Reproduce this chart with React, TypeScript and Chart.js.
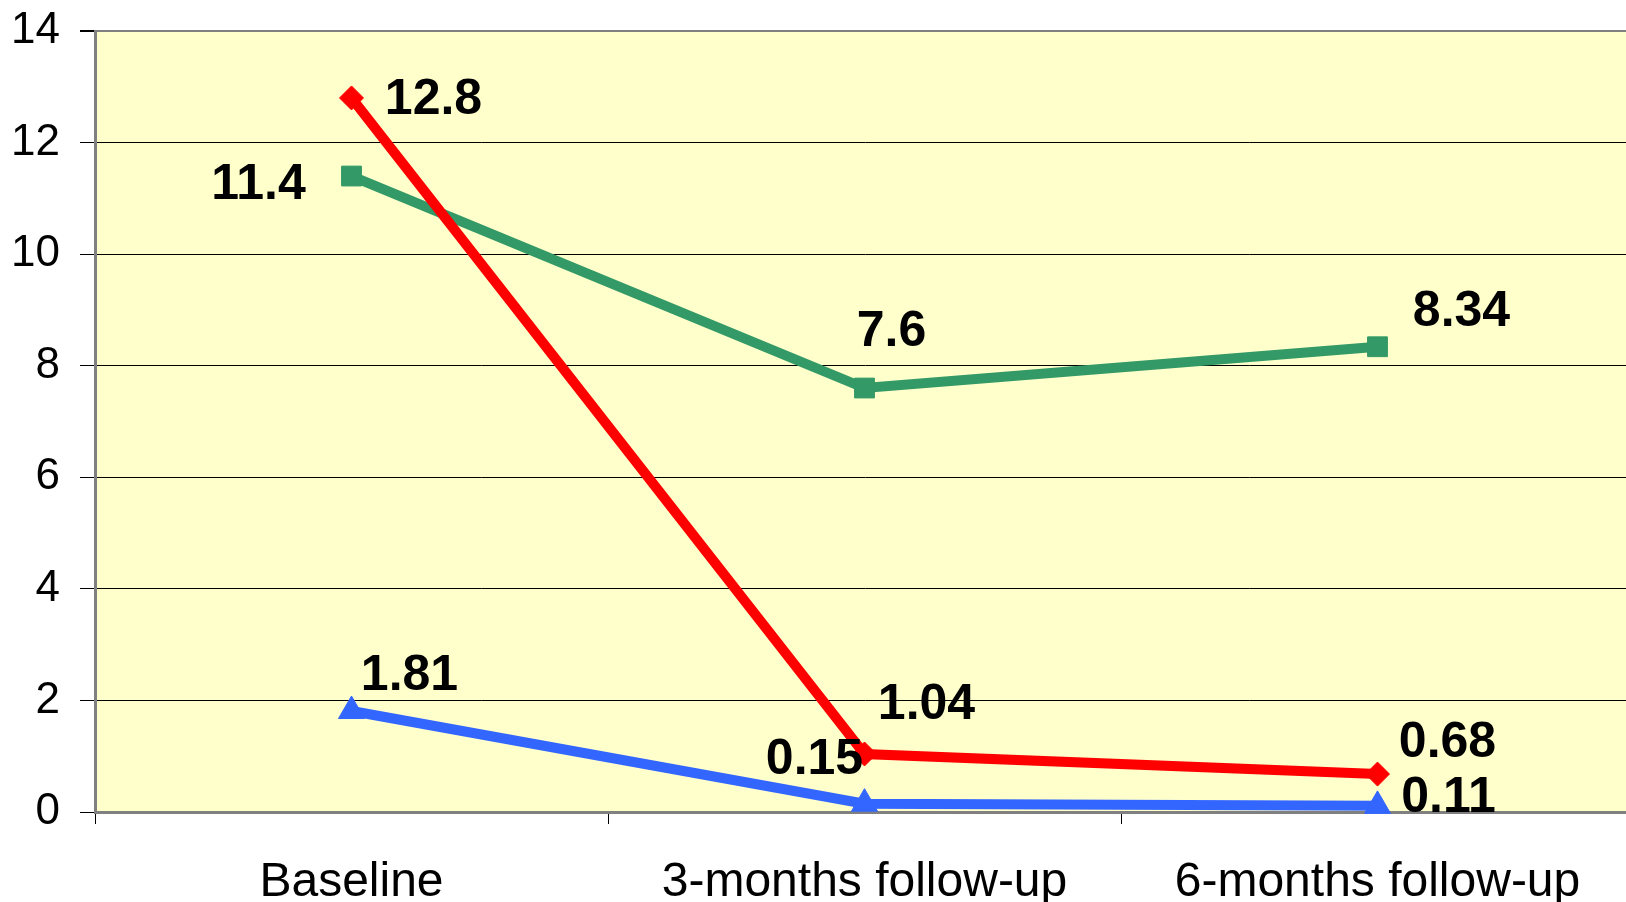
import React, { useEffect, useRef } from "react";
import { Chart, registerables } from "chart.js";

Chart.register(...registerables);

const categories = ["Baseline", "3-months follow-up", "6-months follow-up"];
const redValues = [12.8, 1.04, 0.68];
const greenValues = [11.4, 7.6, 8.34];
const blueValues = [1.81, 0.15, 0.11];
const redLabels = ["12.8", "1.04", "0.68"];
const greenLabels = ["11.4", "7.6", "8.34"];
const blueLabels = ["1.81", "0.15", "0.11"];

// label offsets (pixels from point to label centre)
const redOffsets = [[82, -2], [62, -53], [70, -35]];
const greenOffsets = [[-93, 5], [27, -60], [84, -39]];
const blueOffsets = [[58, -39], [-50, -48], [71, -12]];

const W = 1650;
const H = 902;

export default function App() {
  const ref = useRef<HTMLCanvasElement | null>(null);

  useEffect(() => {
    const canvas = ref.current;
    if (!canvas) return;

    const bgPlugin = {
      id: "plotBg",
      beforeDraw(chart: any) {
        const { ctx, chartArea } = chart;
        ctx.save();
        ctx.fillStyle = "#FFFFCC";
        ctx.fillRect(chartArea.left, chartArea.top, chartArea.right - chartArea.left, chartArea.bottom - chartArea.top);
        ctx.restore();
      },
    };

    const labelPlugin = {
      id: "valueLabels",
      afterDatasetsDraw(chart: any) {
        const ctx = chart.ctx;
        ctx.save();
        ctx.font = "bold 50px 'Liberation Sans', Arial, sans-serif";
        ctx.fillStyle = "#000";
        ctx.textAlign = "center";
        ctx.textBaseline = "alphabetic";
        chart.data.datasets.forEach((ds: any, di: number) => {
          const meta = chart.getDatasetMeta(di);
          meta.data.forEach((pt: any, i: number) => {
            const [dx, dy] = ds.labelOffsets[i];
            ctx.fillText(ds.valueLabels[i], pt.x + dx, pt.y + dy + 18);
          });
        });
        ctx.restore();
      },
    };

    const chart = new Chart(canvas, {
      type: "line",
      data: {
        labels: categories,
        datasets: [
          {
            data: redValues,
            borderColor: "#FF0000",
            backgroundColor: "#FF0000",
            borderWidth: 10,
            pointStyle: "rectRot",
            pointRadius: 12,
            pointBorderWidth: 1,
            pointBorderColor: "#FF0000",
            pointBackgroundColor: "#FF0000",
            tension: 0,
            clip: false,
            valueLabels: redLabels,
            labelOffsets: redOffsets,
          } as any,
          {
            data: greenValues,
            borderColor: "#339966",
            backgroundColor: "#339966",
            borderWidth: 10,
            pointStyle: "rect",
            pointRadius: 14,
            pointBorderWidth: 1,
            pointBorderColor: "#339966",
            pointBackgroundColor: "#339966",
            tension: 0,
            clip: false,
            valueLabels: greenLabels,
            labelOffsets: greenOffsets,
          } as any,
          {
            data: blueValues,
            borderColor: "#3366FF",
            backgroundColor: "#3366FF",
            borderWidth: 10,
            pointStyle: "triangle",
            pointRadius: 15,
            pointBorderWidth: 1,
            pointBorderColor: "#3366FF",
            pointBackgroundColor: "#3366FF",
            tension: 0,
            clip: false,
            valueLabels: blueLabels,
            labelOffsets: blueOffsets,
          } as any,
        ],
      },
      options: {
        responsive: false,
        animation: false,
        devicePixelRatio: 1,
        layout: { padding: { top: 31, left: 0, right: 0, bottom: 0 } },
        plugins: {
          legend: { display: false },
          tooltip: { enabled: false },
        },
        scales: {
          x: {
            type: "category",
            offset: true,
            grid: {
              offset: true,
              drawOnChartArea: false,
              drawTicks: true,
              tickLength: 12,
              tickColor: "#000",
              tickWidth: 1,
            },
            border: { display: true, color: "#808080", width: 3 },
            ticks: {
              color: "#000",
              padding: 30,
              maxRotation: 0,
              autoSkip: false,
              font: { family: "'Liberation Sans', Arial, sans-serif", size: 48 },
            },
            afterFit(scale: any) {
              scale.height = 90;
            },
          },
          y: {
            min: 0,
            max: 14,
            ticks: {
              stepSize: 2,
              color: "#000",
              padding: 20,
              font: { family: "'Liberation Sans', Arial, sans-serif", size: 44 },
            },
            grid: {
              drawTicks: true,
              tickLength: 15,
              tickColor: "#000",
              color: (c: any) => (c.tick && c.tick.value === 14 ? "#808080" : "#000"),
              lineWidth: (c: any) => (c.tick && c.tick.value === 14 ? 2 : 1),
            },
            border: { display: true, color: "#808080", width: 3 },
            afterFit(scale: any) {
              scale.width = 95;
              scale.paddingTop = 0;
              scale.paddingBottom = 0;
            },
          },
        },
      },
      plugins: [bgPlugin, labelPlugin],
    } as any);

    return () => chart.destroy();
  }, []);

  return (
    <div
      style={{
        position: "fixed",
        left: 0,
        top: 0,
        width: 1626,
        height: 902,
        overflow: "hidden",
        background: "#fff",
      }}
    >
      <canvas ref={ref} width={W} height={H} style={{ width: W, height: H, display: "block" }} />
    </div>
  );
}
